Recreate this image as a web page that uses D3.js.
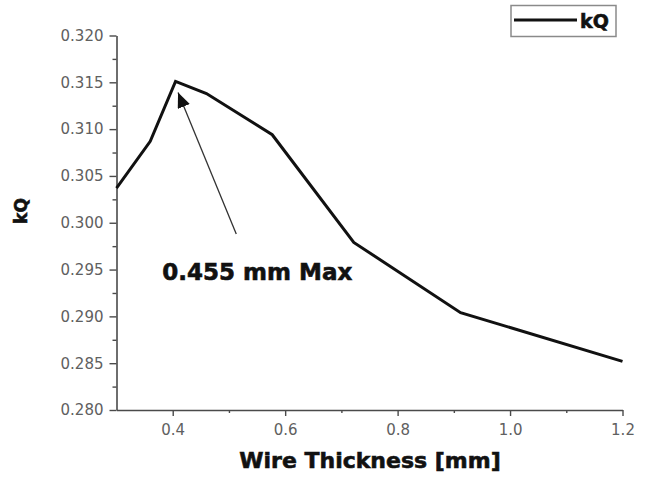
<!DOCTYPE html>
<html>
<head>
<meta charset="utf-8">
<script src="https://cdn.jsdelivr.net/npm/d3@7"></script>
<style>
  html, body { margin: 0; padding: 0; background: #fff; }
  svg { display: block; }
</style>
</head>
<body>
<svg id="chart" width="651" height="479"></svg>
<script>
// Wire thickness (mm) against kQ
const thickness = [0.3, 0.36, 0.405, 0.46, 0.577, 0.722, 0.912, 1.2];
const kQ = [0.3037, 0.3087, 0.3151, 0.3138, 0.3094, 0.2979, 0.2904, 0.2852];

// Axis ticks
const xMajorTicks = [0.4, 0.6, 0.8, 1.0, 1.2];
const xMinorTicks = [0.5, 0.7, 0.9, 1.1];
const yMajorTicks = [0.280, 0.285, 0.290, 0.295, 0.300, 0.305, 0.310, 0.315, 0.320];
const yMinorTicks = [0.2825, 0.2875, 0.2925, 0.2975, 0.3025, 0.3075, 0.3125, 0.3175];

// Peak annotation: label anchor, arrow tail and arrow tip (data units)
const noteText = "0.455 mm Max";
const noteAt = [0.3815, 0.2939];
const arrowFrom = [0.513, 0.2988];
const arrowTo = [0.4095, 0.3139];

const svg = d3.select("#chart");

const x = d3.scaleLinear().domain([0.3, 1.2]).range([116.5, 622.5]);
const y = d3.scaleLinear().domain([0.28, 0.32]).range([410, 35.5]);

const axisColor = "#4a4a4a";
const tickFont = "'DejaVu Sans', sans-serif";

function styleAxis(g) {
  g.selectAll(".domain").attr("stroke", axisColor).attr("stroke-width", 1.6);
  g.selectAll(".tick line").attr("stroke", axisColor).attr("stroke-width", 1.4);
  g.selectAll(".tick text")
    .attr("fill", "#606060")
    .style("font-family", tickFont)
    .style("font-size", "15px");
}

// Bold titles drawn slightly heavier with a thin outline
function heavy(t, size) {
  return t.style("font-family", "'DejaVu Sans', sans-serif")
    .style("font-weight", "bold")
    .style("font-size", size)
    .attr("fill", "#111")
    .attr("stroke", "#111")
    .attr("stroke-width", 0.6);
}

// Y axis
svg.append("g")
  .attr("transform", `translate(${x(0.3)},0)`)
  .call(d3.axisLeft(y).tickValues(yMajorTicks).tickFormat(d3.format(".3f"))
    .tickSizeInner(7).tickSizeOuter(0).tickPadding(6))
  .call(styleAxis);

svg.append("g")
  .attr("transform", `translate(${x(0.3)},0)`)
  .call(d3.axisLeft(y).tickValues(yMinorTicks).tickFormat("")
    .tickSizeInner(4).tickSizeOuter(0))
  .call(styleAxis)
  .select(".domain").remove();

// X axis
svg.append("g")
  .attr("transform", `translate(0,${y(0.28)})`)
  .call(d3.axisBottom(x).tickValues(xMajorTicks).tickFormat(d3.format(".1f"))
    .tickSizeInner(6).tickSizeOuter(0).tickPadding(8))
  .call(styleAxis);

svg.append("g")
  .attr("transform", `translate(0,${y(0.28)})`)
  .call(d3.axisBottom(x).tickValues(xMinorTicks).tickFormat("")
    .tickSizeInner(3).tickSizeOuter(0))
  .call(styleAxis)
  .select(".domain").remove();

// Axis titles
heavy(svg.append("text")
  .attr("x", 370)
  .attr("y", 468)
  .attr("text-anchor", "middle"), "22px")
  .text("Wire Thickness [mm]");

heavy(svg.append("text")
  .attr("transform", "translate(27,211) rotate(-90)")
  .attr("text-anchor", "middle"), "17px")
  .text("kQ");

// Data line
const line = d3.line()
  .x((d, i) => x(thickness[i]))
  .y(d => y(d));

svg.append("path")
  .datum(kQ)
  .attr("d", line)
  .attr("fill", "none")
  .attr("stroke", "#111")
  .attr("stroke-width", 3)
  .attr("stroke-linejoin", "miter");

// Annotation arrow
svg.append("defs").append("marker")
  .attr("id", "arrowhead")
  .attr("viewBox", "0 0 15 13")
  .attr("refX", 15)
  .attr("refY", 6.5)
  .attr("markerWidth", 15)
  .attr("markerHeight", 13)
  .attr("markerUnits", "userSpaceOnUse")
  .attr("orient", "auto")
  .append("path")
  .attr("d", "M0,0 L15,6.5 L0,13 Z")
  .attr("fill", "#111");

svg.append("line")
  .attr("x1", x(arrowFrom[0]))
  .attr("y1", y(arrowFrom[1]))
  .attr("x2", x(arrowTo[0]))
  .attr("y2", y(arrowTo[1]))
  .attr("stroke", "#333")
  .attr("stroke-width", 1.3)
  .attr("marker-end", "url(#arrowhead)");

heavy(svg.append("text")
  .attr("x", x(noteAt[0]))
  .attr("y", y(noteAt[1])), "23px")
  .text(noteText);

// Legend
const legend = svg.append("g");
legend.append("rect")
  .attr("x", 511)
  .attr("y", 5.5)
  .attr("width", 105)
  .attr("height", 31)
  .attr("fill", "#fff")
  .attr("stroke", "#8a8a8a")
  .attr("stroke-width", 1.5);
legend.append("line")
  .attr("x1", 514).attr("x2", 577)
  .attr("y1", 20).attr("y2", 20)
  .attr("stroke", "#111")
  .attr("stroke-width", 3);
heavy(legend.append("text")
  .attr("x", 580)
  .attr("y", 28), "19px")
  .text("kQ");
</script>
</body>
</html>
